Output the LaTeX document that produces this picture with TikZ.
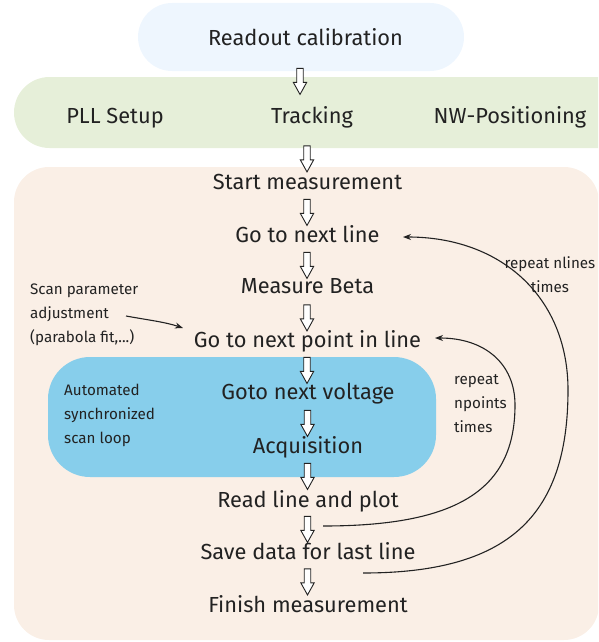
\documentclass[tikz,border=0pt]{standalone}
\usepackage{fontspec}
\setmainfont{Fira Sans}
\usetikzlibrary{shapes.arrows,arrows.meta}
\definecolor{pillblue}{HTML}{EEF6FE}
\definecolor{barGreen}{HTML}{E6EFD9}
\definecolor{regionBeige}{HTML}{FAEFE6}
\definecolor{loopBlue}{HTML}{87CEEB}
\definecolor{txt}{HTML}{222222}
\begin{document}
\begin{tikzpicture}[x=1pt,y=-1pt,
  mtext/.style={font=\fontsize{21.8}{26}\selectfont, text=txt, anchor=base, inner sep=0pt},
  stext/.style={font=\fontsize{15.2}{24}\selectfont, text=txt, inner sep=0pt},
  blockarrow/.style={single arrow, draw=txt, line width=0.9pt, fill=white, rotate=-90,
    minimum height=26pt, minimum width=13pt, inner sep=2.8pt,
    single arrow head extend=3.4pt, single arrow tip angle=58, single arrow head indent=0pt},
  loopline/.style={draw=txt, line width=1.1pt, -{Stealth[length=8pt,width=6pt]}}
]
\useasboundingbox (0,0) rectangle (598,642);
\clip (0,0) rectangle (598,642);
% backgrounds
\fill[regionBeige, rounded corners=35pt] (14,167) rectangle (599,640);
\fill[barGreen, rounded corners=35.5pt] (14,77) rectangle (650,148);
\fill[pillblue, rounded corners=34pt] (138,3) rectangle (464,71);
\fill[loopBlue, rounded corners=42pt] (48,357) rectangle (436,477);
% main texts
\node[mtext] (readout) at (305.5,46) {Readout calibration};
\node[mtext] (pll) at (115,123) {PLL Setup};
\node[mtext] (track) at (312,123) {Tracking};
\node[mtext] (nw) at (510,123) {NW-Positioning};
\node[mtext] (start) at (307.5,189) {Start measurement};
\node[mtext] (nextline) at (307.5,242) {Go to next line};
\node[mtext] (beta) at (307.5,293) {Measure Beta};
\node[mtext] (nextpt) at (307.5,347) {Go to next point in line};
\node[mtext] (volt) at (308,399) {Goto next voltage};
\node[mtext] (acq) at (308,453) {Acquisition};
\node[mtext] (readln) at (308,507) {Read line and plot};
\node[mtext] (save) at (308,559) {Save data for last line};
\node[mtext] (finish) at (308,612) {Finish measurement};
% block arrows
\node[blockarrow] (a1) at (300,78.5) {};
\node[blockarrow] (a2) at (307,156) {};
\node[blockarrow] (a3) at (307,209.5) {};
\node[blockarrow] (a4) at (307,262.5) {};
\node[blockarrow] (a5) at (307,315) {};
\node[blockarrow] (a6) at (307,367.5) {};
\node[blockarrow] (a7) at (307.5,420.5) {};
\node[blockarrow] (a8) at (307.5,473.5) {};
\node[blockarrow] (a9) at (307.5,526.5) {};
\node[blockarrow] (a10) at (307.5,579) {};
% side texts (base anchor = last line)
\node[stext, anchor=base west, align=left] (scan) at (30,342) {Scan parameter\\adjustment\\(parabola fit,...)};
\node[stext, anchor=base west, align=left] (auto) at (64,443) {Automated\\synchronized\\scan loop};
\node[stext, anchor=base, align=center] (rnl) at (550,292) {repeat nlines\\times};
\node[stext, anchor=base west, align=left] (rnp) at (454,432) {repeat\\npoints\\times};
% loop connectors
\coordinate (scanfrom) at (126,316);
\coordinate (scanto) at (183,328);
\draw[loopline] (scanfrom) .. controls (148,320) and (165,322) .. (scanto);
\coordinate (lfrom) at (363,573);
\coordinate (lmid) at (568,390);
\coordinate (lto) at (403,237);
\draw[loopline] (lfrom) .. controls (506.5,573) and (568,518) .. (lmid)
  .. controls (568,298) and (502,237) .. (lto);
\coordinate (pfrom) at (323,526);
\coordinate (pmid) at (515,405);
\coordinate (pto) at (435,338);
\draw[loopline] (pfrom) .. controls (457,526) and (515,490) .. (pmid)
  .. controls (515,363.5) and (484.6,338) .. (pto);
\end{tikzpicture}
\end{document}
